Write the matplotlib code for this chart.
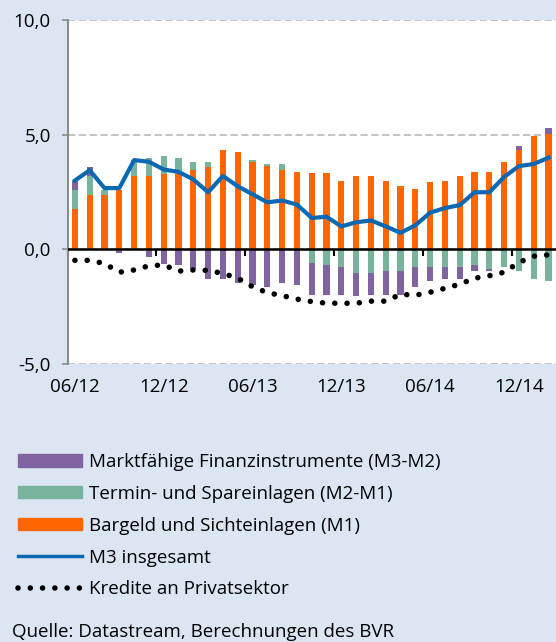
import numpy as np
import pandas as pd
import matplotlib
matplotlib.use("Agg")
import matplotlib.pyplot as plt
from matplotlib.patches import Patch
from matplotlib.lines import Line2D

# Veraenderung gg. Vorjahr in %, monatlich 06/12 - 02/15
months = pd.date_range("2012-06-01", periods=33, freq="MS")
m1 = [1.78, 2.39, 2.39, 2.60, 3.19, 3.19, 3.27, 3.27, 3.45, 3.60, 4.34, 4.25, 3.79,
      3.63, 3.45, 3.36, 3.35, 3.35, 3.00, 3.19, 3.19, 3.00, 2.74, 2.65, 2.92, 3.00,
      3.19, 3.36, 3.36, 3.81, 4.34, 4.96, 5.03]
m2_m1 = [0.79, 0.80, 0.21, 0.0, 0.72, 0.78, 0.80, 0.70, 0.34, 0.19, 0.0, 0.0, 0.10,
         0.09, 0.27, 0.0, -0.60, -0.70, -0.78, -1.03, -1.03, -0.96, -0.96, -0.78,
         -0.78, -0.78, -0.78, -0.69, -0.86, -0.78, -0.95, -1.28, -1.38]
m3_m2 = [0.43, 0.42, 0.0, -0.16, 0.0, -0.34, -0.66, -0.69, -0.85, -1.28, -1.28, -1.46,
         -1.54, -1.64, -1.46, -1.54, -1.37, -1.27, -1.19, -1.01, -0.94, -1.01, -1.01,
         -0.86, -0.58, -0.50, -0.50, -0.26, -0.09, 0.0, 0.17, 0.0, 0.27]
m3 = [3.00, 3.45, 2.67, 2.67, 3.89, 3.82, 3.48, 3.38, 3.05, 2.49, 3.20, 2.75, 2.40,
      2.05, 2.13, 1.95, 1.37, 1.42, 1.00, 1.18, 1.26, 1.00, 0.72, 1.05, 1.60, 1.80,
      1.93, 2.49, 2.49, 3.16, 3.63, 3.72, 4.00]
kredite = [-0.48, -0.48, -0.62, -1.00, -0.90, -0.72, -0.68, -0.95, -0.90, -0.92, -1.05,
           -1.26, -1.63, -1.89, -2.02, -2.17, -2.28, -2.35, -2.35, -2.35, -2.26, -2.26,
           -1.96, -2.00, -1.87, -1.70, -1.52, -1.26, -1.15, -1.00, -0.57, -0.30, -0.24]
y_ticks = [-5, 0, 5, 10]
y_labels = ["-5,0", "0,0", "5,0", "10,0"]

labels = ["Marktfähige Finanzinstrumente (M3-M2)",
          "Termin- und Spareinlagen (M2-M1)",
          "Bargeld und Sichteinlagen (M1)",
          "M3 insgesamt",
          "Kredite an Privatsektor"]

C_ORANGE = "#FF6600"
C_GREEN = "#78B49C"
C_PURPLE = "#8064A2"
C_BLUE = "#0868B2"
BG = "#DCE6F2"
DOTS = (0, (0.01, 2.2))

plt.rcParams["font.family"] = ["Open Sans", "DejaVu Sans"]
plt.rcParams["font.size"] = 13.5

fig = plt.figure(figsize=(5.56, 6.42), dpi=100, facecolor=BG)
ax = fig.add_axes([67.5 / 556, 278 / 642, 488.5 / 556, 344 / 642])
ax.set_facecolor("white")

x = np.arange(len(months))
w = 0.42
pos = np.zeros(len(x))
neg = np.zeros(len(x))
# gestapelt: positive Teile nach oben, negative nach unten
for vals, col in [(m1, C_ORANGE), (m2_m1, C_GREEN), (m3_m2, C_PURPLE)]:
    v = np.array(vals)
    bottom = np.where(v >= 0, pos, neg)
    ax.bar(x, v, w, bottom=bottom, color=col, edgecolor="none", zorder=3)
    pos = pos + np.clip(v, 0, None)
    neg = neg + np.clip(v, None, 0)

ax.axhline(0, color="black", lw=1.8, zorder=4)
ax.plot(x, m3, color=C_BLUE, lw=3.0, zorder=5, solid_joinstyle="round")
ax.plot(x, kredite, color="black", lw=4.0, linestyle=DOTS,
        dash_capstyle="round", zorder=5)

ax.set_xlim(-0.5, 32.5)
ax.set_ylim(-5, 10)
ax.set_yticks(y_ticks)
ax.set_yticklabels(y_labels)
ax.yaxis.grid(True, color="#BFBFBF", linestyle=(0, (4, 2)), lw=1.3, zorder=0)
ax.set_axisbelow(True)

for s in ["top", "right", "bottom"]:
    ax.spines[s].set_visible(False)
ax.spines["left"].set_color("#8C8C8C")
ax.spines["left"].set_linewidth(1.5)
ax.tick_params(axis="y", length=4, width=1.2, color="#8C8C8C", pad=8)

# Beschriftung der Monate unten, Markierungen an der Nulllinie
lab_pos = x[::6]
ax.set_xticks(lab_pos)
ax.set_xticklabels([d.strftime("%m/%y") for d in months[::6]])
ax.tick_params(axis="x", length=0, pad=10)

zero = ax.secondary_xaxis(1 / 3)
zero.set_xticks(lab_pos - 0.5)
zero.set_xticklabels([])
zero.tick_params(axis="x", direction="out", length=5, width=1.5, color="black")
zero.spines["bottom"].set_visible(False)

handles = [Patch(color=C_PURPLE), Patch(color=C_GREEN), Patch(color=C_ORANGE),
           Line2D([], [], color=C_BLUE, lw=2.5),
           Line2D([], [], color="black", lw=4.0, linestyle=DOTS,
                  dash_capstyle="round")]
fig.legend(handles, labels, loc="upper left", bbox_to_anchor=(18 / 556, 1 - 453 / 642),
           frameon=False, handlelength=3.4, handleheight=0.64, handletextpad=0.4,
           labelspacing=0.74, borderpad=0, borderaxespad=0)

fig.text(12 / 556, 1 - 632 / 642, "Quelle: Datastream, Berechnungen des BVR",
         va="center", ha="left")

fig.savefig("out.png", dpi=100, facecolor=BG)
